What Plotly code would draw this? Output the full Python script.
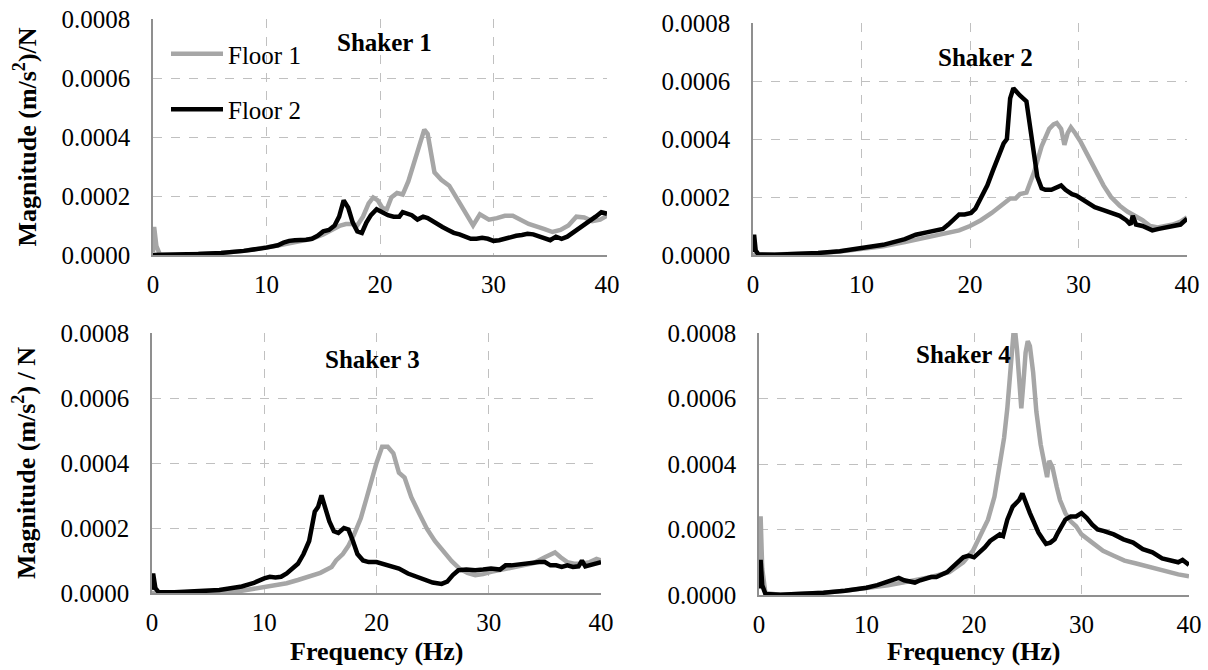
import plotly.graph_objects as go

# ---------------- data (magnitudes in units of 1e-4 (m/s^2)/N) ----------------
# Shaker 1
s1_f1_freq = [0, 0.1, 0.3, 0.6, 2, 4, 6, 8, 10, 11, 12, 13, 14, 15, 16, 16.5, 17, 17.5, 18, 18.5, 19, 19.4, 19.8,
              20.2, 20.6, 21, 21.5, 22, 22.5, 23, 23.5, 23.9, 24.2, 24.5, 24.8, 25.4, 26.1, 26.8, 27.5, 28.2, 28.8,
              29.6, 30.3, 31, 31.7, 32.4, 33.1, 34.5, 35.2, 35.9, 36.6, 37.3, 38, 38.7, 39.4, 40]
s1_f1_mag = [0.1, 0.95, 0.3, 0.02, 0.01, 0.03, 0.07, 0.14, 0.25, 0.32, 0.4, 0.47, 0.55, 0.7, 0.9, 1.0, 1.05, 1.05,
             1.0, 1.3, 1.75, 1.95, 1.85, 1.6, 1.55, 1.95, 2.1, 2.05, 2.5, 3.1, 3.8, 4.25, 4.1, 3.5, 2.8, 2.55, 2.35,
             1.9, 1.45, 1.0, 1.38, 1.2, 1.25, 1.33, 1.33, 1.2, 1.05, 0.88, 0.78, 0.85, 1.0, 1.3, 1.27, 1.15, 1.2, 1.33]
s1_f2_freq = [0, 0.5, 2, 4, 6, 8, 10, 11, 11.5, 12, 12.5, 13, 13.5, 14, 14.5, 15, 15.5, 16, 16.4, 16.8, 17.2, 17.6,
              18.0, 18.4, 18.8, 19.2, 19.7, 20.2, 20.7, 21.2, 21.7, 22.0, 22.4, 22.8, 23.3, 23.8, 24.2, 24.6, 25,
              25.5, 26, 26.5, 27, 27.5, 28, 28.5, 29, 29.5, 30, 30.5, 31, 31.5, 32, 32.5, 33, 33.5, 34, 34.5, 35,
              35.5, 36, 36.5, 37, 37.5, 38, 38.5, 39, 39.5, 40]
s1_f2_mag = [0.0, 0.0, 0.01, 0.03, 0.07, 0.14, 0.25, 0.33, 0.42, 0.48, 0.5, 0.5, 0.52, 0.55, 0.65, 0.8, 0.85, 1.0,
             1.3, 1.85, 1.6, 1.1, 0.8, 0.75, 1.1, 1.35, 1.55, 1.45, 1.35, 1.3, 1.3, 1.45, 1.4, 1.35, 1.2, 1.3, 1.25,
             1.15, 1.05, 0.95, 0.85, 0.75, 0.7, 0.62, 0.55, 0.55, 0.58, 0.55, 0.48, 0.5, 0.55, 0.62, 0.65, 0.68,
             0.72, 0.7, 0.62, 0.55, 0.5, 0.62, 0.55, 0.62, 0.75, 0.88, 1.0, 1.15, 1.3, 1.45, 1.4]

# Shaker 2
s2_f1_freq = [0, 2, 4, 6, 8, 10, 12, 14, 16, 18, 19, 20, 21, 22, 23, 23.7, 24.2, 24.6, 25.2, 25.9, 26.6, 27.3,
              27.7, 28.0, 28.4, 28.7, 29.0, 29.3, 29.7, 30.2, 30.9, 31.6, 32.3, 33.0, 33.8, 34.5, 35.2, 35.9, 36.6,
              37.3, 38, 38.7, 39.4, 40]
s2_f1_mag = [0, 0.01, 0.03, 0.06, 0.12, 0.2, 0.3, 0.45, 0.6, 0.75, 0.85, 1.0, 1.2, 1.45, 1.75, 1.95, 1.95, 2.1,
             2.15, 2.85, 3.75, 4.35, 4.5, 4.55, 4.35, 3.8, 4.2, 4.4, 4.2, 3.9, 3.4, 2.9, 2.4, 2.0, 1.7, 1.5, 1.35,
             1.2, 1.0, 0.95, 1.0, 1.05, 1.15, 1.3]
s2_f2_freq = [0, 0.1, 0.25, 0.5, 2, 4, 6, 8, 10, 12, 14, 15, 16, 17, 17.5, 18, 18.5, 19, 19.5, 20.1, 20.5, 21,
              21.6, 22.1, 22.65, 23.1, 23.4, 23.7, 24.0, 24.3, 24.6, 25.2, 25.7, 26.2, 26.6, 26.95, 27.5, 28.0,
              28.4, 28.8, 29.4, 29.8, 30.4, 30.9, 31.5, 32.3, 33.0, 33.8, 34.4, 34.8, 35.0, 35.3, 35.9, 36.8, 37.4,
              38.1, 38.8, 39.4, 40]
s2_f2_mag = [0.1, 0.7, 0.15, 0.02, 0.01, 0.03, 0.07, 0.13, 0.25, 0.35, 0.55, 0.7, 0.78, 0.85, 0.9, 1.05, 1.25,
             1.4, 1.4, 1.45, 1.6, 2.0, 2.4, 2.9, 3.4, 3.85, 4.0, 5.4, 5.75, 5.6, 5.5, 5.3, 4.0, 2.7, 2.3, 2.25, 2.25,
             2.35, 2.4, 2.25, 2.1, 2.05, 1.9, 1.8, 1.65, 1.55, 1.45, 1.35, 1.2, 1.05, 1.35, 1.05, 1.0, 0.85, 0.9,
             0.95, 1.0, 1.05, 1.25]

# Shaker 3
s3_f1_freq = [0, 2, 4, 6, 8, 10, 12, 13, 14, 15, 16, 16.4, 17, 17.5, 18, 18.6, 19.1, 19.6, 20.0, 20.5, 21.0,
              21.5, 22.0, 22.5, 23.1, 23.8, 24.5, 25.2, 26.0, 26.7, 27.4, 28.1, 28.8, 29.5, 30.2, 31, 32, 33, 34,
              35, 35.5, 35.9, 36.4, 37, 37.6, 38.3, 39, 39.6, 40]
s3_f1_mag = [0, 0.0, 0.01, 0.03, 0.07, 0.17, 0.3, 0.4, 0.5, 0.62, 0.8, 1.0, 1.2, 1.45, 1.8, 2.3, 2.9, 3.55, 4.0,
             4.5, 4.5, 4.3, 3.7, 3.55, 2.95, 2.45, 1.97, 1.6, 1.25, 0.98, 0.75, 0.62, 0.55, 0.58, 0.65, 0.7, 0.78,
             0.85, 0.92, 1.1, 1.2, 1.25, 1.1, 0.95, 0.9, 0.9, 0.95, 1.05, 1.0]
s3_f2_freq = [0, 0.1, 0.3, 0.6, 2, 4, 6, 8, 9, 10, 10.5, 11, 11.5, 12, 12.5, 13, 13.5, 14, 14.5, 14.8, 15.1, 15.4,
              15.8, 16.2, 16.6, 17.1, 17.5, 17.9, 18.3, 18.8, 19.3, 20, 20.6, 21.2, 22, 22.8, 23.5, 24.2, 25, 25.8,
              26.3, 26.8, 27.3, 28, 28.8, 29.5, 30.2, 31, 31.5, 32, 33, 34, 34.5, 35, 35.5, 36, 36.5, 37, 37.5, 38,
              38.3, 38.6, 39, 39.5, 40]
s3_f2_mag = [0.1, 0.6, 0.15, 0.02, 0.02, 0.04, 0.09, 0.2, 0.3, 0.45, 0.5, 0.48, 0.5, 0.6, 0.75, 0.9, 1.2, 1.6, 2.5,
             2.65, 3.0, 2.6, 2.2, 1.9, 1.85, 2.0, 1.95, 1.6, 1.2, 1.0, 0.95, 0.95, 0.9, 0.85, 0.75, 0.6, 0.5, 0.4,
             0.32, 0.28, 0.35, 0.55, 0.7, 0.72, 0.7, 0.72, 0.75, 0.72, 0.85, 0.85, 0.9, 0.95, 0.95, 0.95, 0.85,
             0.85, 0.8, 0.85, 0.8, 0.82, 1.0, 0.82, 0.85, 0.9, 0.95]

# Shaker 4
s4_f1_freq = [0, 0.15, 0.3, 0.6, 2, 4, 6, 8, 10, 12, 14, 16, 17.7, 19, 19.9, 20.6, 21.3, 21.9, 22.4, 22.8, 23.1,
              23.5, 23.75, 24.0, 24.2, 24.4, 24.6, 24.8, 25.0, 25.2, 25.5, 25.8, 26.2, 26.6, 26.8, 27.0, 27.3, 27.7,
              28.0, 28.5, 29.0, 29.5, 30, 31, 32, 33, 34, 35, 36, 37, 38, 39, 40]
s4_f1_mag = [0.3, 2.4, 0.8, 0.05, 0.01, 0.03, 0.07, 0.13, 0.2, 0.3, 0.42, 0.55, 0.7, 1.0, 1.35, 1.8, 2.3, 3.0, 3.9,
             4.8, 5.7, 7.2, 8.3, 7.5, 6.3, 5.7, 6.5, 7.4, 7.75, 7.6, 6.8, 5.6, 4.6, 3.8, 3.6, 4.1, 3.9, 3.3, 2.9,
             2.5, 2.25, 2.1, 1.85, 1.6, 1.35, 1.2, 1.05, 0.97, 0.88, 0.8, 0.72, 0.63, 0.57]
s4_f2_freq = [0, 0.15, 0.3, 0.6, 2, 4, 6, 8, 10, 11, 12, 12.5, 13, 13.5, 14, 14.5, 15, 15.5, 16, 16.5, 17, 17.5, 18,
              18.5, 19, 19.5, 20, 20.5, 21, 21.5, 22, 22.4, 22.7, 23.1, 23.6, 24.2, 24.5, 24.8, 25.2, 25.6, 26.0,
              26.4, 26.7, 27.1, 27.5, 27.8, 28.2, 28.5, 29.0, 29.5, 30.0, 30.5, 31.0, 31.5, 32.1, 33.0, 33.9, 34.8,
              35.7, 36.6, 37.5, 38.2, 39.0, 39.4, 39.7, 40]
s4_f2_mag = [0.2, 1.07, 0.3, 0.03, 0.01, 0.03, 0.07, 0.13, 0.22, 0.3, 0.4, 0.45, 0.52, 0.45, 0.4, 0.38, 0.45, 0.5,
             0.55, 0.55, 0.62, 0.7, 0.85, 1.0, 1.15, 1.2, 1.15, 1.3, 1.45, 1.65, 1.75, 1.85, 1.8, 2.3, 2.7, 2.9, 3.1,
             2.8, 2.5, 2.2, 1.9, 1.7, 1.56, 1.6, 1.7, 1.9, 2.1, 2.3, 2.4, 2.4, 2.5, 2.35, 2.15, 2.0, 1.95, 1.85, 1.7,
             1.6, 1.4, 1.3, 1.12, 1.05, 1.0, 1.07, 1.0, 0.92]

MAG_UNIT = 1e-4
series_names = ["Floor 1", "Floor 2"]
panel_titles = ["Shaker 1", "Shaker 2", "Shaker 3", "Shaker 4"]
title_pos = [(20.4, 7.2), (21.4, 6.8), (19.6, 7.17), (19.0, 7.33)]
x_ticks = [0, 10, 20, 30, 40]
y_ticks = [0, 0.0002, 0.0004, 0.0006, 0.0008]
x_title = "Frequency (Hz)"
y_title_top = "Magnitude (m/s<sup>2</sup>)/N"
y_title_bottom = "Magnitude (m/s<sup>2</sup>) / N"

panels = [
    (s1_f1_freq, s1_f1_mag, s1_f2_freq, s1_f2_mag),
    (s2_f1_freq, s2_f1_mag, s2_f2_freq, s2_f2_mag),
    (s3_f1_freq, s3_f1_mag, s3_f2_freq, s3_f2_mag),
    (s4_f1_freq, s4_f1_mag, s4_f2_freq, s4_f2_mag),
]

# ---------------- styling ----------------
W, H = 1208, 670
FONT = "Liberation Serif, Times New Roman, serif"
GRAY = "#a6a6a6"
GRID = "#c0c0c0"
AXLINE = "#8f8f8f"
TICK_SIZE = 25
LINE_W = 4.5

# plot areas in pixels: (left, right, top, bottom)
boxes = [(153, 607, 19, 255), (753, 1187, 23, 255), (152, 601, 333, 593), (759, 1189, 333, 595)]
X_TITLE_Y = 651  # px from top

fig = go.Figure()

for i, (f1x, f1y, f2x, f2y) in enumerate(panels):
    sfx = "" if i == 0 else str(i + 1)
    fig.add_trace(go.Scatter(
        x=f1x, y=[v * MAG_UNIT for v in f1y], mode="lines", name=series_names[0],
        line=dict(color=GRAY, width=LINE_W), xaxis="x" + sfx, yaxis="y" + sfx,
        showlegend=(i == 0), legendgroup="g1", hoverinfo="skip"))
    fig.add_trace(go.Scatter(
        x=f2x, y=[v * MAG_UNIT for v in f2y], mode="lines", name=series_names[1],
        line=dict(color="black", width=LINE_W), xaxis="x" + sfx, yaxis="y" + sfx,
        showlegend=(i == 0), legendgroup="g2", hoverinfo="skip"))

layout = dict(
    width=W, height=H, margin=dict(l=0, r=0, t=0, b=0, autoexpand=False),
    paper_bgcolor="white", plot_bgcolor="white",
    font=dict(family=FONT, size=TICK_SIZE, color="black"),
    showlegend=True,
    legend=dict(x=166 / W, y=1 - 31 / H, xanchor="left", yanchor="top",
                bgcolor="rgba(0,0,0,0)", tracegroupgap=20,
                font=dict(family=FONT, size=TICK_SIZE, color="black"),
                itemwidth=52),
    annotations=[],
)

for i, (l, r, t, b) in enumerate(boxes):
    sfx = "" if i == 0 else str(i + 1)
    xa = dict(domain=[l / W, r / W], anchor="y" + sfx, range=[0, 40], automargin=False,
              tickvals=x_ticks, showgrid=True, gridcolor=GRID, griddash="dash", gridwidth=1.3,
              showline=True, linecolor=AXLINE, linewidth=1.5, zeroline=False, ticks="",
              tickfont=dict(family=FONT, size=TICK_SIZE, color="black"), ticklabelstandoff=6)
    ya = dict(domain=[1 - b / H, 1 - t / H], anchor="x" + sfx, range=[0, 0.0008], automargin=False,
              tickvals=y_ticks, tickformat=".4f", showgrid=True, gridcolor=GRID, griddash="dash",
              gridwidth=1.3, showline=True, linecolor=AXLINE, linewidth=1.5, zeroline=False, ticks="",
              tickfont=dict(family=FONT, size=TICK_SIZE, color="black"), ticklabelstandoff=16)
    if i == 0:
        ya["title"] = dict(text="<b>" + y_title_top + "</b>", font=dict(family=FONT, size=26, color="black"),
                           standoff=17)
    if i == 2:
        ya["title"] = dict(text="<b>" + y_title_bottom + "</b>", font=dict(family=FONT, size=26, color="black"),
                           standoff=17)
    layout["xaxis" + sfx] = xa
    layout["yaxis" + sfx] = ya
    tx, ty = title_pos[i]
    layout["annotations"].append(dict(
        text="<b>" + panel_titles[i] + "</b>", x=tx, y=ty * MAG_UNIT, xref="x" + sfx, yref="y" + sfx,
        showarrow=False, font=dict(family=FONT, size=25, color="black"), xanchor="center", yanchor="middle"))
    if i >= 2:
        layout["annotations"].append(dict(
            text="<b>" + x_title + "</b>", x=(l + r) / 2 / W, y=1 - X_TITLE_Y / H, xref="paper", yref="paper",
            showarrow=False, font=dict(family=FONT, size=26, color="black"), xanchor="center", yanchor="middle"))

fig.update_layout(**layout)
fig.write_html("out.html", config={"displayModeBar": False},
               post_script="document.body.style.margin='0';document.body.style.overflow='hidden';")
